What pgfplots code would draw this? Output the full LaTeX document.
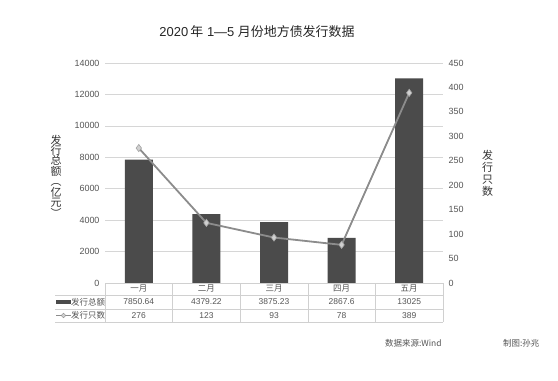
\documentclass[border=0pt]{standalone}
\usepackage{pgfplots}
\pgfplotsset{compat=1.18}
\usetikzlibrary{shapes.geometric}
\usepackage{fontspec}
\setmainfont{Liberation Sans}
\newfontfamily\cjk{Noto Sans CJK SC}
\definecolor{barc}{HTML}{4B4B4B}
\definecolor{linec}{HTML}{8C8C8C}
\definecolor{markc}{HTML}{D0D0D0}
\definecolor{gridc}{HTML}{D6D6D6}
\definecolor{txt}{HTML}{555555}
\definecolor{tabc}{HTML}{D0D0D0}
\begin{document}
\begin{tikzpicture}[x=1bp,y=1bp]
\path[use as bounding box, fill=white] (0,0) rectangle (558,380);
\begin{axis}[
  at={(105bp,97bp)}, anchor=south west, scale only axis,
  width=338bp, height=220bp,
  xmin=-0.5, xmax=4.5, ymin=0, ymax=14000,
  ytick={0,2000,...,14000}, xtick=\empty,
  scaled y ticks=false,
  /pgf/number format/1000 sep={},
  /pgf/number format/assume math mode=true,
  axis line style={draw=none},
  major tick length=0pt,
  ymajorgrids, grid style={gridc, line width=0.6bp},
  yticklabel style={font=\fontsize{9}{10}\selectfont, text=txt, xshift=-2bp},
  clip=false,
]
\addplot[ybar, bar width=28bp, fill=barc, draw=none] coordinates {(0,7850.64) (1,4379.22) (2,3875.23) (3,2867.6) (4,13025)};
\end{axis}
\begin{axis}[
  at={(105bp,97bp)}, anchor=south west, scale only axis,
  width=338bp, height=220bp,
  xmin=-0.5, xmax=4.5, ymin=0, ymax=450,
  ytick={0,50,...,450}, xtick=\empty,
  axis y line*=right, axis x line=none,
  axis line style={draw=none},
  major tick length=0pt,
  /pgf/number format/assume math mode=true,
  yticklabel style={font=\fontsize{9}{10}\selectfont, text=txt, xshift=2bp},
  clip=false,
]
\addplot[linec, line width=1.8bp, mark=diamond*, mark size=3.6bp, mark options={fill=markc, draw=linec!80, line width=0.6bp}] coordinates {(0,276) (1,123) (2,93) (3,78) (4,389)};
\end{axis}
% data table
\draw[tabc, line width=0.6bp] (105,97) -- (443,97);
\foreach \k in {0,...,5} { \draw[tabc, line width=0.6bp] ({105+\k*67.6},97) -- ({105+\k*67.6},58); }
\foreach \yy in {85,71,58} { \draw[tabc, line width=0.6bp] (55,\yy) -- (443,\yy); }
\foreach \m [count=\i from 0] in {一月,二月,三月,四月,五月} {
  \node[text=txt, font=\cjk\fontsize{8.5}{9}\selectfont] at ({105+(\i+0.5)*67.6},91) {\m};
}
\foreach \v [count=\i from 0] in {7850.64,4379.22,3875.23,2867.6,13025} {
  \node[text=txt, font=\fontsize{8.5}{9}\selectfont] at ({105+(\i+0.5)*67.6},78) {\v};
}
\foreach \v [count=\i from 0] in {276,123,93,78,389} {
  \node[text=txt, font=\fontsize{8.5}{9}\selectfont] at ({105+(\i+0.5)*67.6},64.5) {\v};
}
\fill[barc] (56,76.5) rectangle (71,80);
\draw[linec, line width=1.2bp] (56,64.5) -- (71,64.5);
\node[diamond, fill=markc, draw=linec, inner sep=1.2bp, line width=0.4bp] at (63.5,64.5) {};
\node[anchor=west, text=txt, font=\cjk\fontsize{8.5}{9}\selectfont, inner sep=0pt] at (71,78) {发行总额};
\node[anchor=west, text=txt, font=\cjk\fontsize{8.5}{9}\selectfont, inner sep=0pt] at (71,64.5) {发行只数};
% titles and labels
\node[text=black!85, font=\fontsize{13}{14}\selectfont] at (257,348) {2020\,{\cjk 年} 1—5 {\cjk 月份地方债发行数据}};
\node[text=black!80, font=\cjk\fontsize{11}{10.5}\selectfont, align=center, inner sep=0pt] at (56,204) {发\\行\\总\\额\\︵\\亿\\元\\︶};
\node[text=black!80, font=\cjk\fontsize{11}{12}\selectfont, align=center, inner sep=0pt] at (487.5,207) {发\\行\\只\\数};
\node[anchor=west, text=txt, font=\cjk\fontsize{8.5}{9}\selectfont, inner sep=0pt] at (385,37) {数据来源:Wind};
\node[anchor=west, text=txt, font=\cjk\fontsize{8.5}{9}\selectfont, inner sep=0pt] at (503,37) {制图:孙兆};
\end{tikzpicture}
\end{document}
